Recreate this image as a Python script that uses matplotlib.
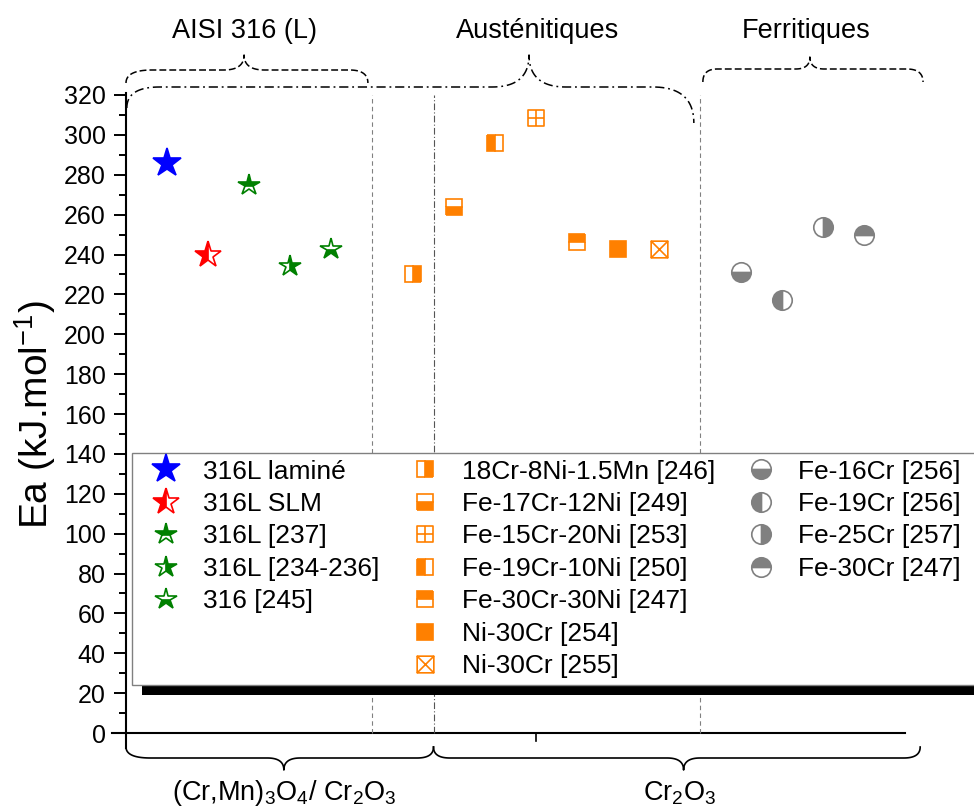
import numpy as np
import matplotlib
matplotlib.use('Agg')
import matplotlib.pyplot as plt
import matplotlib.transforms as mtransforms
from matplotlib.lines import Line2D
from matplotlib.path import Path
from matplotlib.patches import Rectangle
from matplotlib.ticker import MultipleLocator

plt.rcParams['font.family'] = ['Liberation Sans', 'DejaVu Sans']
plt.rcParams['mathtext.fontset'] = 'custom'
plt.rcParams['mathtext.rm'] = 'Liberation Sans'
plt.rcParams['mathtext.it'] = 'Liberation Sans:italic'

# AISI 316(L) group
labels_316 = ['316L laminé', '316L SLM', '316L [237]', '316L [234-236]', '316 [245]']
x_316 = [1, 2, 3, 4, 5]
ea_316 = [286, 240, 275, 234, 243]

# austenitic alloys
labels_aus = ['18Cr-8Ni-1.5Mn [246]', 'Fe-17Cr-12Ni [249]', 'Fe-15Cr-20Ni [253]',
              'Fe-19Cr-10Ni [250]', 'Fe-30Cr-30Ni [247]', 'Ni-30Cr [254]', 'Ni-30Cr [255]']
x_aus = [7, 8, 10, 9, 11, 12, 13]
ea_aus = [230, 264, 308.5, 296, 246.5, 243, 243]

# ferritic alloys
labels_fer = ['Fe-16Cr [256]', 'Fe-19Cr [256]', 'Fe-25Cr [257]', 'Fe-30Cr [247]']
x_fer = [15, 16, 17, 18]
ea_fer = [231, 217, 254, 250]

# marker styles
star_colors = ['#0000FF', '#FF0000', '#008000', '#008000', '#008000']
star_fill = ['full', 'left', 'top', 'right', 'bottom']
star_ms = [21, 20, 16, 16, 16]

ORANGE = '#FF8000'
GRAY = '#808080'

box_plus = Path([(-1, -1), (1, -1), (1, 1), (-1, 1), (-1, -1),
                 (0, -1), (0, 1), (-1, 0), (1, 0)],
                [Path.MOVETO, Path.LINETO, Path.LINETO, Path.LINETO, Path.CLOSEPOLY,
                 Path.MOVETO, Path.LINETO, Path.MOVETO, Path.LINETO])
box_x = Path([(-1, -1), (1, -1), (1, 1), (-1, 1), (-1, -1),
              (-1, -1), (1, 1), (-1, 1), (1, -1)],
             [Path.MOVETO, Path.LINETO, Path.LINETO, Path.LINETO, Path.CLOSEPOLY,
              Path.MOVETO, Path.LINETO, Path.MOVETO, Path.LINETO])
aus_marker = ['s', 's', box_plus, 's', 's', 's', box_x]
aus_fill = ['right', 'bottom', None, 'left', 'top', 'full', None]
fer_fill = ['bottom', 'left', 'right', 'top']

W, H = 974, 809
fig = plt.figure(figsize=(W / 100, H / 100), dpi=100)
ax = fig.add_axes([126 / W, 1 - 748 / H, (905 - 126) / W, 655 / H])
ax.patch.set_visible(False)

h316, haus, hfer = [], [], []
for xi, yi, lab, c, fs, ms in zip(x_316, ea_316, labels_316, star_colors, star_fill, star_ms):
    l, = ax.plot([xi], [yi], marker='*', ms=ms, color=c, mec=c, mfc=c,
                 fillstyle=fs, markerfacecoloralt='white', mew=1.2, ls='none', label=lab)
    h316.append(l)

for xi, yi, lab, m, fs in zip(x_aus, ea_aus, labels_aus, aus_marker, aus_fill):
    if fs is None:
        l, = ax.plot([xi], [yi], marker=m, ms=12, mec=ORANGE, mfc='none', mew=1.2,
                     ls='none', label=lab)
    else:
        l, = ax.plot([xi], [yi], marker=m, ms=12, mec=ORANGE, mfc=ORANGE, fillstyle=fs,
                     markerfacecoloralt='white', mew=1.2, ls='none', label=lab)
    haus.append(l)

for xi, yi, lab, fs in zip(x_fer, ea_fer, labels_fer, fer_fill):
    l, = ax.plot([xi], [yi], marker='o', ms=14, mec=GRAY, mfc=GRAY, fillstyle=fs,
                 markerfacecoloralt='white', mew=1.2, ls='none', label=lab)
    hfer.append(l)

ax.set_xlim(0, 19)
ax.set_ylim(-7.5, 321)
ax.set_xticks([])
ax.yaxis.set_major_locator(MultipleLocator(20))
ax.yaxis.set_minor_locator(MultipleLocator(10))
ax.tick_params(axis='y', which='major', direction='out', length=8.5, width=1.4,
               labelsize=18, pad=6)
ax.tick_params(axis='y', which='minor', direction='out', length=5, width=1.4)
for s in ['top', 'right', 'bottom']:
    ax.spines[s].set_visible(False)
ax.spines['left'].set_linewidth(1.5)

# x axis line at 0 and its single tick
ax.plot([-0.34, 19], [0, 0], color='black', lw=1.5, clip_on=False)
ax.plot([10, 10], [0, -4], color='black', lw=1.2, clip_on=False)

# group separators
ax.plot([6, 6], [0, 320], color=GRAY, lw=0.8, ls=(0, (4, 3)))
ax.plot([7.5, 7.5], [0, 320], color='#555555', lw=0.8, ls=(0, (6, 2, 1, 2)))
ax.plot([14, 14], [0, 320], color=GRAY, lw=0.8, ls=(0, (4, 3)))

blend = mtransforms.blended_transform_factory(ax.transData, fig.transFigure)


def fy(py):
    return 1 - py / H


def qbez(p0, c, p1, n=25):
    t = np.linspace(0, 1, n)[:, None]
    return (1 - t) ** 2 * np.array(p0) + 2 * (1 - t) * t * np.array(c) + t ** 2 * np.array(p1)


def brace(x0, x1, xm, yl, yr, yf, yp, rl, rm, rr, **kw):
    pts = np.vstack([
        qbez((x0, yl), (x0, yf), (x0 + rl, yf)),
        qbez((xm - rm, yf), (xm, yf), (xm, yp)),
        qbez((xm, yp), (xm, yf), (xm + rm, yf)),
        qbez((x1 - rr, yf), (x1, yf), (x1, yr)),
    ])
    ax.plot(pts[:, 0], fy(pts[:, 1]), transform=blend, clip_on=False, color='black', **kw)


dash = dict(lw=1.1, ls=(0, (4.5, 2)))
dashdot = dict(lw=1.1, ls=(0, (6, 2.5, 1.2, 2.5)))
brace(0.0, 5.9, 2.88, 83, 83, 70, 55, 0.64, 0.5, 0.45, **dash)
brace(0.02, 13.85, 9.83, 108, 123, 87, 55, 0.8, 0.9, 1.0, **dashdot)
brace(14.07, 19.44, 16.68, 82, 82, 69, 57, 0.35, 0.35, 0.4, **dash)
brace(0.0, 7.5, 3.85, 747, 747, 758, 770, 0.6, 0.4, 0.4, lw=1.2)
brace(7.5, 19.37, 13.6, 747, 747, 758, 770, 0.4, 0.4, 0.4, lw=1.2)

ax.text(2.9, fy(31), 'AISI 316 (L)', transform=blend, ha='center', va='center', fontsize=19.5)
ax.text(10.05, fy(31), 'Austénitiques', transform=blend, ha='center', va='center', fontsize=19.5)
ax.text(16.6, fy(31), 'Ferritiques', transform=blend, ha='center', va='center', fontsize=19.5)
ax.text(3.85, fy(793), '(Cr,Mn)$_3$O$_4$/ Cr$_2$O$_3$', transform=blend, ha='center',
        va='center', fontsize=19.5)
ax.text(13.5, fy(793), 'Cr$_2$O$_3$', transform=blend, ha='center', va='center', fontsize=19.5)

fig.text(35 / W, fy(415), 'Ea (kJ.mol$^{-1}$)', rotation=90, ha='center', va='center',
         fontsize=28)

blank = Line2D([], [], ls='none', marker=None)
handles = h316 + [blank, blank] + haus + hfer + [blank, blank, blank]
labels = labels_316 + ['', ''] + labels_aus + labels_fer + ['', '', '']
leg = ax.legend(handles, labels, ncol=3, loc='upper left',
                bbox_to_anchor=(132 / W, fy(453)), bbox_transform=fig.transFigure,
                borderaxespad=0, fontsize=19, frameon=False,
                borderpad=0.25, labelspacing=0.32,
                handlelength=2.1, handletextpad=0.33, columnspacing=0.7)
leg.set_zorder(6)

# legend frame running off the right edge, with its black shadow
fig.canvas.draw()
bb = leg.get_window_extent()
shadow = Rectangle((bb.x0 + 10, bb.y0 - 10), W, bb.height, facecolor='black',
                   edgecolor='none', transform=mtransforms.IdentityTransform(),
                   clip_on=False, zorder=5.5)
frame = Rectangle((bb.x0, bb.y0), W, bb.height, facecolor='white', edgecolor=GRAY,
                  lw=1.0, transform=mtransforms.IdentityTransform(),
                  clip_on=False, zorder=5.8)
ax.add_patch(shadow)
ax.add_patch(frame)

fig.savefig('out.png', dpi=100)
